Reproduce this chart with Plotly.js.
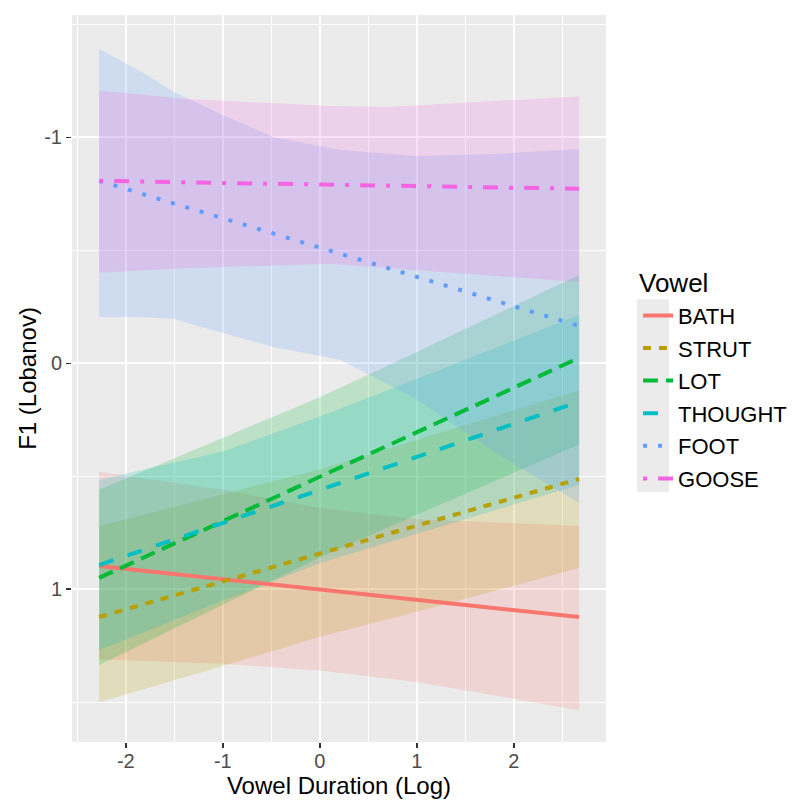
<!DOCTYPE html>
<html>
<head>
<meta charset="utf-8">
<script src="https://cdn.plot.ly/plotly-3.0.1.min.js"></script>
<style>html,body{margin:0;padding:0;background:#fff}#chart{width:792px;height:803px}</style>
</head>
<body>
<div id="chart"></div>
<script>
// ---- data ----
const vowels = ['BATH', 'STRUT', 'LOT', 'THOUGHT', 'FOOT', 'GOOSE'];
const colors = ['#F8766D', '#B79F00', '#00BA38', '#00BFC4', '#619CFF', '#F564E3'];
const fills = ['rgba(248,118,109,0.2)', 'rgba(183,159,0,0.2)', 'rgba(0,186,56,0.2)', 'rgba(0,191,196,0.2)', 'rgba(97,156,255,0.2)', 'rgba(245,100,227,0.2)'];
const dashes = ['solid', '8px,8px', '15px,8px', '15px,15px', '4px,11px', '4px,11px,15px,11px'];
const legendTitle = 'Vowel';

const lineX = [-2.275, 2.673];
const bathLine = [0.897, 1.123];
const strutLine = [1.123, 0.512];
const lotLine = [0.95, -0.024];
const thoughtLine = [0.893, 0.17];
const footLine = [-0.807, -0.165];
const gooseLine = [-0.807, -0.772];

const bandX = [-2.275, -1, 0, 1, 2.673];
const bathUpper = [0.48, 0.56, 0.64, 0.69, 0.72];
const bathLower = [1.31, 1.33, 1.36, 1.41, 1.535];
const strutUpper = [0.72, 0.58, 0.47, 0.34, 0.12];
const strutLower = [1.50, 1.34, 1.21, 1.10, 0.906];
const lotUpper = [0.56, 0.33, 0.15, -0.05, -0.39];
const lotLower = [1.335, 1.07, 0.86, 0.67, 0.36];
const thoughtUpper = [0.516, 0.39, 0.236, 0.07, -0.214];
const thoughtLower = [1.27, 1.05, 0.885, 0.755, 0.538];

const footX = [-2.275, -1.78, -1.51, -1.0, -0.48, 0.21, 1.0, 1.83, 2.673];
const footUpper = [-1.391, -1.276, -1.201, -1.098, -1.001, -0.944, -0.917, -0.926, -0.948];
const footLower = [-0.205, -0.203, -0.196, -0.134, -0.072, -0.015, 0.16, 0.40, 0.618];

const gooseX = [-2.275, -2.0, -1.4, 0.1, 0.7, 2.673];
const gooseUpper = [-1.205, -1.196, -1.17, -1.138, -1.134, -1.18];
const gooseLower = [-0.40, -0.405, -0.42, -0.44, -0.42, -0.36];

const xTicks = [-2, -1, 0, 1, 2];
const xTickText = ['-2', '-1', '0', '1', '2'];
const yTicks = [-1, 0, 1];
const yTickText = ['-1', '0', '1'];

// ---- build ----
const series = [
  {bx: bandX, up: bathUpper, lo: bathLower, ly: bathLine},
  {bx: bandX, up: strutUpper, lo: strutLower, ly: strutLine},
  {bx: bandX, up: lotUpper, lo: lotLower, ly: lotLine},
  {bx: bandX, up: thoughtUpper, lo: thoughtLower, ly: thoughtLine},
  {bx: footX, up: footUpper, lo: footLower, ly: footLine},
  {bx: gooseX, up: gooseUpper, lo: gooseLower, ly: gooseLine}
];

const traces = [];
series.forEach((s, i) => {
  traces.push({
    type: 'scatter', mode: 'lines',
    x: s.bx.concat(s.bx.slice().reverse()),
    y: s.up.concat(s.lo.slice().reverse()),
    fill: 'toself', fillcolor: fills[i],
    line: {width: 0, color: 'rgba(0,0,0,0)'},
    hoverinfo: 'skip', showlegend: false, legendgroup: vowels[i]
  });
});
series.forEach((s, i) => {
  traces.push({
    type: 'scatter', mode: 'lines',
    x: lineX, y: s.ly, name: vowels[i], legendgroup: vowels[i],
    line: {color: colors[i], width: 4, dash: dashes[i]}
  });
});

const font = 'Liberation Sans, Arial, Helvetica, sans-serif';
const layout = {
  width: 792, height: 803,
  margin: {l: 72, r: 186, t: 15, b: 61, autoexpand: false},
  paper_bgcolor: '#FFFFFF', plot_bgcolor: '#EBEBEB',
  font: {family: font, color: '#000'},
  xaxis: {
    range: [-2.555, 2.95], tickvals: xTicks, ticktext: xTickText,
    showgrid: true, gridcolor: '#FFFFFF', gridwidth: 2, zeroline: false,
    ticks: 'outside', ticklen: 5, tickwidth: 1.5, tickcolor: '#333333',
    ticklabelstandoff: -4,
    tickfont: {size: 20, color: '#4D4D4D', family: font},
    minor: {dtick: 0.5, tick0: 0.5, showgrid: true, gridcolor: '#FFFFFF', gridwidth: 1, ticks: ''},
    title: {text: 'Vowel Duration (Log)', font: {size: 24, color: '#000', family: font}, standoff: 0},
    showline: false, fixedrange: true, automargin: false
  },
  yaxis: {
    range: [1.676, -1.541], tickvals: yTicks, ticktext: yTickText,
    showgrid: true, gridcolor: '#FFFFFF', gridwidth: 2, zeroline: false,
    ticks: 'outside', ticklen: 5, tickwidth: 1.5, tickcolor: '#333333',
    tickfont: {size: 20, color: '#4D4D4D', family: font},
    minor: {dtick: 0.5, tick0: 0.5, showgrid: true, gridcolor: '#FFFFFF', gridwidth: 1, ticks: ''},
    title: {text: 'F1 (Lobanov)', font: {size: 24, color: '#000', family: font}, standoff: 0},
    showline: false, fixedrange: true, automargin: false
  },
  legend: {
    x: 1.06, xanchor: 'left', y: 0.6154, yanchor: 'top',
    bgcolor: 'rgba(0,0,0,0)', tracegroupgap: 1,
    font: {size: 22, color: '#000', family: font}
  },
  annotations: [{
    text: legendTitle, xref: 'paper', yref: 'paper', x: 1.058, y: 0.6314,
    xanchor: 'left', yanchor: 'middle', showarrow: false,
    font: {size: 26, color: '#000', family: font}
  }],
  shapes: [{
    type: 'rect', xref: 'paper', yref: 'paper',
    x0: 1.058, x1: 1.118, y0: 0.344, y1: 0.609,
    fillcolor: '#EBEBEB', line: {width: 0}, layer: 'below'
  }],
  showlegend: true
};

Plotly.newPlot('chart', traces, layout, {displayModeBar: false, staticPlot: true});
</script>
</body>
</html>
